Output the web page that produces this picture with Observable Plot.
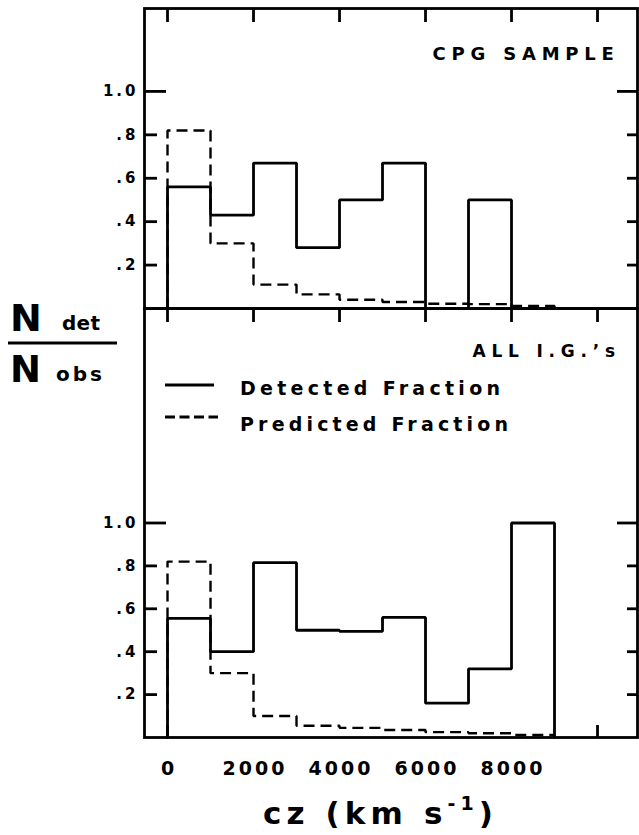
<!DOCTYPE html>
<html>
<head>
<meta charset="utf-8">
<script src="https://cdn.jsdelivr.net/npm/d3@7"></script>
<script src="https://cdn.jsdelivr.net/npm/@observablehq/plot@0.6"></script>
<style>
  html, body { margin: 0; padding: 0; background: #fff; }
  #wrap { position: relative; width: 639px; height: 835px; overflow: hidden;
          font-family: "DejaVu Sans", sans-serif; font-weight: bold; color: #000; }
  #top, #bottom, #overlay { position: absolute; left: 0; }
  #top { top: 0; }
  #bottom { top: 300px; }
  #overlay { top: 0; pointer-events: none; }
  #wrap svg text { font-weight: bold; }
  g[aria-label="y-axis tick label"] text { letter-spacing: 3px; }
  g[aria-label="x-axis tick label"] text { letter-spacing: 3px; }
  g[aria-label="text"] text { letter-spacing: 5.8px; }
</style>
</head>
<body>
<div id="wrap">
  <div id="top"></div>
  <div id="bottom"></div>
  <svg id="overlay" width="639" height="835" font-family="DejaVu Sans, sans-serif" font-weight="bold" fill="#000">
    <!-- y-axis title: N det / N obs -->
    <text x="10" y="331" font-size="38">N</text>
    <text x="62" y="330" font-size="20" textLength="38">det</text>
    <line x1="8" x2="117" y1="343" y2="343" stroke="#000" stroke-width="2.8"/>
    <text x="10" y="382" font-size="37">N</text>
    <text x="56" y="381" font-size="20" textLength="46">obs</text>
    <!-- legend -->
    <line x1="165" x2="214" y1="385" y2="385" stroke="#000" stroke-width="2.8"/>
    <line x1="165" x2="218" y1="417" y2="417" stroke="#000" stroke-width="2.8" stroke-dasharray="10,4.5"/>
    <text x="240" y="395" font-size="19" textLength="260">Detected Fraction</text>
    <text x="240" y="431" font-size="19" textLength="268">Predicted Fraction</text>
    <!-- x-axis title -->
    <text x="378" y="824" font-size="31" text-anchor="middle" textLength="230">cz (km s<tspan dy="-14" font-size="19">-1</tspan><tspan dy="14">)</tspan></text>
  </svg>
</div>
<script>
// ---- data ----
const binWidth = 1000;                       // km/s per bin, bins start at 0
const cpgDetected   = [0.56, 0.43, 0.67, 0.28, 0.50, 0.67, 0.00, 0.50];
const cpgPredicted  = [0.82, 0.30, 0.11, 0.065, 0.04, 0.03, 0.022, 0.02, 0.012];
const allDetected   = [0.555, 0.40, 0.815, 0.50, 0.495, 0.56, 0.16, 0.32, 1.00];
const allPredicted  = [0.82, 0.30, 0.10, 0.055, 0.045, 0.035, 0.025, 0.02, 0.012];
const yTickValues   = [0.2, 0.4, 0.6, 0.8, 1.0];
const yTickLabels   = [".2", ".4", ".6", ".8", "1.0"];
const xTickValues   = [0, 2000, 4000, 6000, 8000];
const xTickLabels   = ["0", "2000", "4000", "6000", "8000"];
const frameTickValues = [0, 2000, 4000, 6000, 8000, 10000];
const bottomTickValues = [0, 10000];
const panelTitles   = ["CPG SAMPLE", "ALL I.G.\u2019s"];

// ---- layout ----
const W = 639, mL = 144, mR = 2;
const innerW = W - mL - mR;
const xDomain = [-535, 10930];
const lw = 2.8;
const font = "DejaVu Sans, sans-serif";

function stepPoints(vals) {
  const pts = [{x: 0, y: 0}];
  vals.forEach((v, i) => pts.push({x: i * binWidth, y: v}));
  pts.push({x: vals.length * binWidth, y: 0});
  return pts;
}
const yFmt = d => yTickLabels[yTickValues.indexOf(d)];
const xFmt = d => xTickLabels[xTickValues.indexOf(d)];
const minor = yTickValues.filter(d => d !== 1);

function commonMarks(innerH, detected, predicted) {
  return [
    Plot.frame({stroke: "#000", strokeWidth: lw}),
    Plot.axisY(yTickValues, {anchor: "left", tickSize: 0, tickPadding: 6, tickFormat: yFmt, fontSize: 15, label: null}),
    Plot.tickY(minor, {y: d => d, insetRight: innerW - 13, stroke: "#000", strokeWidth: lw}),
    Plot.tickY([1], {y: d => d, insetRight: innerW - 22, stroke: "#000", strokeWidth: lw}),
    Plot.tickY(minor, {y: d => d, insetLeft: innerW - 10, stroke: "#000", strokeWidth: lw}),
    Plot.tickY([1], {y: d => d, insetLeft: innerW - 20, stroke: "#000", strokeWidth: lw}),
    Plot.tickX(frameTickValues, {x: d => d, insetBottom: innerH - 14, stroke: "#000", strokeWidth: lw}),
    Plot.line(stepPoints(predicted), {x: "x", y: "y", curve: "step-after", stroke: "#000", strokeWidth: 2.4,
      strokeDasharray: "11,6", strokeLinecap: "butt", strokeLinejoin: "miter"}),
    Plot.line(stepPoints(detected), {x: "x", y: "y", curve: "step-after", stroke: "#000", strokeWidth: lw,
      strokeLinejoin: "miter"})
  ];
}

// top panel
const topH = 310, topMT = 8, topMB = 2;
const topInner = topH - topMT - topMB;
const topPlot = Plot.plot({
  width: W, height: topH, marginTop: topMT, marginBottom: topMB, marginLeft: mL, marginRight: mR,
  x: {domain: xDomain, axis: null},
  y: {domain: [0, 1.382], axis: null},
  style: {fontFamily: font, fontWeight: "bold", background: "transparent", color: "#000"},
  marks: [
    ...commonMarks(topInner, cpgDetected, cpgPredicted),
    Plot.text([panelTitles[0]], {frameAnchor: "top-left", dx: 288, dy: 46, textAnchor: "start", lineAnchor: "middle", fontSize: 18})
  ]
});
document.getElementById("top").appendChild(topPlot);

// bottom panel
const botH = 535, botMT = 8, botMB = 98;
const botInner = botH - botMT - botMB;
const botPlot = Plot.plot({
  width: W, height: botH, marginTop: botMT, marginBottom: botMB, marginLeft: mL, marginRight: mR,
  x: {domain: xDomain, axis: null},
  y: {domain: [0, 2.0], axis: null},
  style: {fontFamily: font, fontWeight: "bold", background: "transparent", color: "#000"},
  marks: [
    ...commonMarks(botInner, allDetected, allPredicted),
    Plot.tickX(bottomTickValues, {x: d => d, insetTop: botInner - 12, stroke: "#000", strokeWidth: lw}),
    Plot.axisX(xTickValues, {anchor: "bottom", tickSize: 0, tickPadding: 24, tickFormat: xFmt, fontSize: 19, dx: 1.5, label: null}),
    Plot.text([panelTitles[1]], {frameAnchor: "top-left", dx: 328, dy: 43, textAnchor: "start", lineAnchor: "middle", fontSize: 17})
  ]
});
document.getElementById("bottom").appendChild(botPlot);
</script>
</body>
</html>
